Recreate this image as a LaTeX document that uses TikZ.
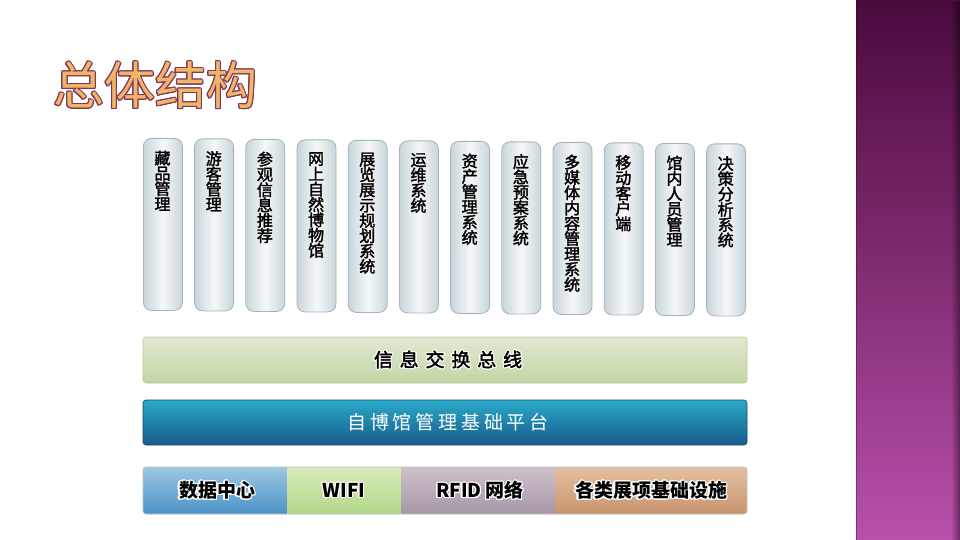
\documentclass[tikz,border=0pt]{standalone}
\usepackage{fontspec}
\usepackage[copies]{contour}
\usetikzlibrary{fadings}
\newfontfamily\cjk{Noto Sans CJK SC}
\newfontfamily\cjkmed{Noto Sans CJK SC}[FakeBold=2]
\newfontfamily\cjkwide{Noto Sans CJK SC}[LetterSpace=36,FakeBold=2.2]
\newfontfamily\cjkmid{Noto Sans CJK SC}[LetterSpace=20]
\definecolor{pTop}{HTML}{4A0A3C}
\definecolor{pMid}{HTML}{7E3070}
\definecolor{pBot}{HTML}{B850AA}
\definecolor{titleFill}{HTML}{F4B468}
\definecolor{titleEdge}{HTML}{7A3A5C}
\definecolor{colEdge}{HTML}{A3B4BC}
\definecolor{colSide}{HTML}{C9D5DA}
\definecolor{colMid}{HTML}{F5F8F9}
\definecolor{gTop}{HTML}{E0E9D2}
\definecolor{gBot}{HTML}{C4D5A4}
\definecolor{gEdge}{HTML}{B9C9A2}
\definecolor{bTop}{HTML}{2AAAC8}
\definecolor{bBot}{HTML}{185A8C}
\definecolor{s1Top}{HTML}{9CC8E4}
\definecolor{s1Bot}{HTML}{4C92C6}
\definecolor{s2Top}{HTML}{D9EBBB}
\definecolor{s2Bot}{HTML}{B2D789}
\definecolor{s3Top}{HTML}{CFC0CB}
\definecolor{s3Bot}{HTML}{A697A6}
\definecolor{s4Top}{HTML}{E4C0A2}
\definecolor{s4Bot}{HTML}{C8946E}
\contourlength{1.1pt}
\begin{document}
\begin{tikzpicture}[x=1pt,y=-1pt,
  colbox/.style={draw=colEdge, line width=0.8pt, rounded corners=8pt,
    left color=colSide, right color=colSide, middle color=colMid,
    minimum width=39pt, minimum height=172pt, anchor=north west, inner sep=0pt},
  coltext/.style={anchor=north, align=center, inner sep=0pt,
    font=\cjkmed\fontsize{16}{15.3}\selectfont},
  bartext/.style={inner sep=0pt},
  segtext/.style={inner sep=0pt, font=\cjk\bfseries\fontsize{19}{22}\selectfont}
]
\useasboundingbox (0,0) rectangle (960,540);
\fill[white] (0,0) rectangle (960,540);
% purple side panel
\shade[top color=pTop, middle color=pMid, bottom color=pBot] (856,0) rectangle (960,540);
\fill[black, opacity=0.45, path fading=west] (951,0) rectangle (960,540);
\draw[pTop!70!black, opacity=0.4, line width=0.6pt] (856.3,0) -- (856.3,540);
% title
\node[anchor=west, inner sep=0pt, font=\cjk\fontsize{51}{54}\selectfont] (title) at (53,86)
  {\contour{titleEdge}{\textcolor{titleFill}{总体结构}}};
% columns
\foreach \i/\t in {0/{藏\\品\\管\\理},1/{游\\客\\管\\理},2/{参\\观\\信\\息\\推\\荐},
  3/{网\\上\\自\\然\\博\\物\\馆},4/{展\\览\\展\\示\\规\\划\\系\\统},5/{运\\维\\系\\统},
  6/{资\\产\\管\\理\\系\\统},7/{应\\急\\预\\案\\系\\统},8/{多\\媒\\体\\内\\容\\管\\理\\系\\统},
  9/{移\\动\\客\\户\\端},10/{馆\\内\\人\\员\\管\\理},11/{决\\策\\分\\析\\系\\统}}{
  \node[colbox] (col\i) at ({143+51.2*\i},{138+0.5*\i}) {};
  \node[coltext] (colt\i) at ({162.5+51.2*\i},{150.5+0.5*\i}) {\t};
}
% info exchange bus
\node[draw=gEdge, line width=0.6pt, rounded corners=3pt, top color=gTop, bottom color=gBot,
  minimum width=604pt, minimum height=46pt, inner sep=0pt] (bus) at (445,360) {};
\node[bartext, font=\cjkwide\fontsize{19}{22}\selectfont] (bust) at (448,360)
  {\contour{white}{信息交换总线}};
% platform
\node[draw=bBot!80!black, line width=0.6pt, rounded corners=3pt, top color=bTop, bottom color=bBot,
  minimum width=604pt, minimum height=45pt, inner sep=0pt] (plat) at (445,422.5) {};
\node[bartext, text=white, font=\cjkmid\fontsize{19}{22}\selectfont] (platt) at (448,422.5)
  {自博馆管理基础平台};
% bottom infrastructure bar
\begin{scope}
  \clip[rounded corners=3pt] (143,467) rectangle (747,514);
  \shade[top color=s1Top, bottom color=s1Bot] (143,467) rectangle (287,514);
  \shade[top color=s2Top, bottom color=s2Bot] (287,467) rectangle (401,514);
  \shade[top color=s3Top, bottom color=s3Bot] (401,467) rectangle (555,514);
  \shade[top color=s4Top, bottom color=s4Bot] (555,467) rectangle (747,514);
\end{scope}
\draw[black!25, line width=0.6pt, rounded corners=3pt] (143,467) rectangle (747,514);
\coordinate (s1) at (217,491);
\coordinate (s2) at (344,491);
\coordinate (s3) at (480,491);
\coordinate (s4) at (651,491);
\node[segtext] (t1) at (s1) {\contour{white}{数据中心}};
\node[segtext] (t2) at (s2) {\contour{white}{WIFI}};
\node[segtext] (t3) at (s3) {\contour{white}{RFID 网络}};
\node[segtext] (t4) at (s4) {\contour{white}{各类展项基础设施}};
\end{tikzpicture}
\end{document}
